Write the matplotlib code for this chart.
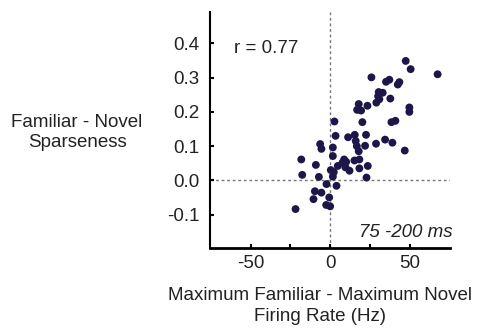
import matplotlib
matplotlib.use("Agg")
import matplotlib.pyplot as plt

plt.rcParams['font.family'] = ['Liberation Sans', 'DejaVu Sans']

rate_diff = [47.6, 50.7, 67.7, 26.0, 35.2, 37.3, 42.6, 43.6, 30.6, 33.1,
             30.2, 31.0, 29.1, 37.9, 18.0, 23.5, 17.0, 19.5, 49.9, 49.9,
             2.7, 20.3, 38.6, 41.1, 3.4, 11.3, 15.5, 22.6, 34.6, 28.9,
             39.2, 47.0, -6.3, -5.5, 1.7, 16.1, 16.8, 18.0, 22.0, -18.2,
             1.7, 8.8, 15.3, 18.4, -9.0, 4.8, 7.8, 9.6, 12.2, 18.4,
             23.7, -17.6, -7.1, 0.4, 2.3, 1.7, 22.9, -2.3, 4.0, -9.6,
             -5.5, -10.5, -0.6, -2.5, 0.0, -21.8, 10.1]
sparse_diff = [0.349, 0.325, 0.310, 0.301, 0.288, 0.294, 0.280, 0.287, 0.258, 0.256,
               0.246, 0.237, 0.227, 0.239, 0.223, 0.218, 0.206, 0.204, 0.213, 0.200,
               0.172, 0.170, 0.170, 0.174, 0.130, 0.126, 0.133, 0.133, 0.119, 0.107,
               0.110, 0.087, 0.106, 0.092, 0.096, 0.115, 0.100, 0.085, 0.101, 0.061,
               0.071, 0.061, 0.058, 0.061, 0.045, 0.042, 0.052, 0.038, 0.028, 0.035,
               0.042, 0.016, 0.010, 0.030, 0.024, 0.011, 0.008, -0.011, -0.016, -0.032,
               -0.036, -0.055, -0.050, -0.072, -0.076, -0.084, 0.054]

y_ticks = [-0.1, 0.0, 0.1, 0.2, 0.3, 0.4]
y_ticklabels = ['-0.1', '0.0', '0.1', '0.2', '0.3', '0.4']
x_ticks = [-50, -25, 0, 25, 50]
x_ticklabels = ['-50', '', '0', '', '50']

FS = 13.5
TC = '#222222'

fig = plt.figure(figsize=(4.80, 3.29), dpi=100)
ax = fig.add_axes([0.4365, 0.246, 0.501, 0.7175])

ax.axhline(0, color='#777777', lw=1, ls=(0, (2, 2)), zorder=1)
ax.axvline(0, color='#777777', lw=1, ls=(0, (2, 2)), zorder=1)
ax.scatter(rate_diff, sparse_diff, s=32, color='#1c1748', edgecolors='none', zorder=3)

ax.set_xlim(-76, 75.5)
ax.set_ylim(-0.198, 0.492)
ax.set_xticks(x_ticks)
ax.set_xticklabels(x_ticklabels)
ax.set_yticks(y_ticks)
ax.set_yticklabels(y_ticklabels)
ax.tick_params(direction='in', length=3, width=1.5, labelsize=FS, pad=5,
               labelcolor=TC)
ax.tick_params(axis='y', pad=7)
for s in ['top', 'right']:
    ax.spines[s].set_visible(False)
ax.spines['left'].set_linewidth(1.5)
ax.spines['bottom'].set_linewidth(2)

ax.text(0.1, 0.847, 'r = 0.77', transform=ax.transAxes, fontsize=FS,
        ha='left', va='center', color=TC)
ax.text(1.012, 0.068, '75 -200 ms', transform=ax.transAxes, fontsize=FS,
        ha='right', va='center', style='italic', color=TC)

fig.text(77 / 480, 1 - 132.5 / 329, 'Familiar - Novel\nSparseness', ha='center',
         va='center', fontsize=FS, linespacing=1.3, color=TC)
fig.text(320 / 480, 1 - 306 / 329, 'Maximum Familiar - Maximum Novel\nFiring Rate (Hz)',
         ha='center', va='center', fontsize=FS, linespacing=1.3, color=TC)

fig.savefig('out.png', dpi=100)
